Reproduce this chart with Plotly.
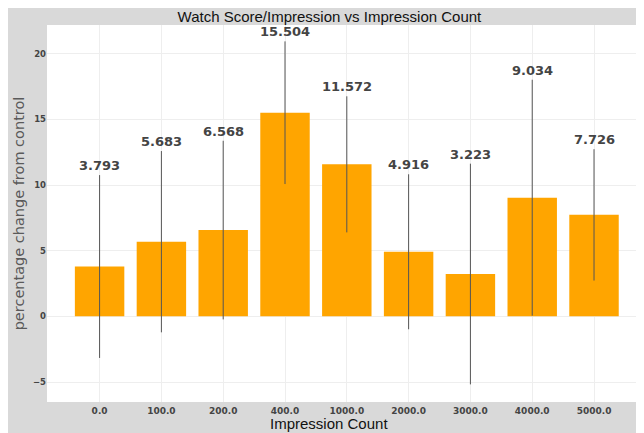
import plotly.graph_objects as go

categories = ["0.0", "100.0", "200.0", "400.0", "1000.0", "2000.0", "3000.0", "4000.0", "5000.0"]
values = [3.793, 5.683, 6.568, 15.504, 11.572, 4.916, 3.223, 9.034, 7.726]
errors = [6.96, 6.9, 6.8, 5.43, 5.18, 5.9, 8.4, 8.98, 5.0]
y_tick_vals = [-5, 0, 5, 10, 15, 20]
y_tick_text = ["\u22125", "0", "5", "10", "15", "20"]

fig = go.Figure()
fig.add_trace(go.Bar(
    x=categories,
    y=values,
    marker=dict(color="#FFA500", line=dict(width=0)),
    error_y=dict(type="data", array=errors, visible=True, color="#555555", thickness=1, width=0),
))

for i, (v, e) in enumerate(zip(values, errors)):
    fig.add_annotation(
        x=i, y=v + e, xref="x", yref="y", text=f"{v:.3f}", showarrow=False,
        yanchor="bottom", yshift=0,
        font=dict(family="DejaVu Sans", size=13, color="#444444", weight="bold"),
    )

# x-axis title (centred like the reference, under the figure centre)
fig.add_annotation(
    x=0.454, y=-0.058, xref="paper", yref="paper", text="Impression Count",
    showarrow=False, xanchor="center", yanchor="middle",
    font=dict(family="Liberation Sans", size=15, color="#111111"),
)

fig.update_layout(
    width=660, height=425,
    margin=dict(l=39, r=0, t=17, b=31),
    paper_bgcolor="#d9d9d9",
    plot_bgcolor="#ffffff",
    bargap=0.2,
    showlegend=False,
    title=dict(
        text="Watch Score/Impression vs Impression Count",
        x=0.487, xanchor="center", xref="container",
        y=0.98, yanchor="middle", yref="container",
        font=dict(family="Liberation Sans", size=15, color="#111111"),
    ),
    xaxis=dict(
        type="category",
        range=[-0.851, 9.197],
        showgrid=True, gridcolor="#eeeeee", gridwidth=1,
        ticks="",
        ticklabelstandoff=2,
        tickfont=dict(family="DejaVu Sans", size=9, color="#444444", weight="bold"),
        automargin=False,
    ),
    yaxis=dict(
        range=[-6.52, 22.18],
        tickvals=y_tick_vals,
        ticktext=y_tick_text,
        showgrid=True, gridcolor="#eeeeee", gridwidth=1,
        zeroline=True, zerolinecolor="#eeeeee", zerolinewidth=1,
        ticks="",
        tickfont=dict(family="DejaVu Sans", size=8.5, color="#444444", weight="bold"),
        title=dict(text="percentage change from control", font=dict(family="DejaVu Sans", size=14.5, color="#5a5a5a"), standoff=4),
        automargin=False,
    ),
)

fig.write_html(
    "out.html",
    post_script="document.documentElement.style.overflow='hidden';document.body.style.overflow='hidden';",
)
